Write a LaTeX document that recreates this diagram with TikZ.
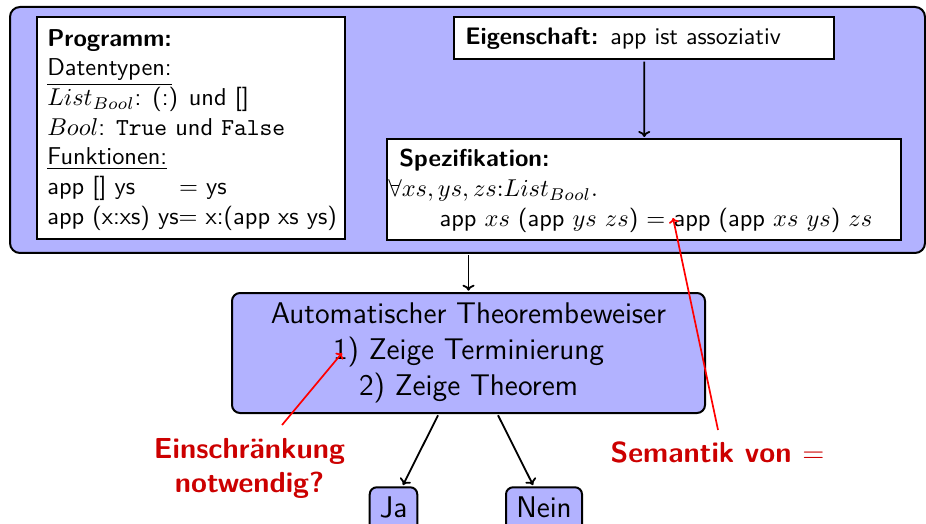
\RequirePackage{fix-cm}
\documentclass[tikz,border=0pt]{standalone}
\usepackage{fontspec}
\renewcommand{\familydefault}{\sfdefault}
\usetikzlibrary{calc,arrows.meta}
\definecolor{boxblue}{rgb}{0.7,0.7,1}
\definecolor{hired}{rgb}{0.8,0,0}
\begin{document}
\begin{tikzpicture}[x=0.434783pt,y=-0.434783pt,scale=2.3,
  every node/.style={transform shape},
  whitebox/.style={draw=black,fill=white,line width=2pt,anchor=north west},
  bluebox/.style={draw=black,fill=boxblue,line width=2pt},
  bigfont/.style={font=\fontsize{13.0}{15.65}\selectfont},
  smallbox/.style={bluebox,rounded corners=7pt,bigfont,text height=9.9pt,text depth=3pt,inner ysep=3.2pt,inner xsep=4.3pt,anchor=north},
  arr/.style={-{Computer Modern Rightarrow[length=6pt,width=12pt]},line width=1.8pt},
  redarr/.style={-{Computer Modern Rightarrow[length=5pt,width=10pt]},line width=1.7pt,draw=red},
  redlabel/.style={text=hired,font=\fontsize{12.6}{14.8}\selectfont\bfseries,inner sep=0pt,align=center}]
\useasboundingbox (0,0) rectangle (926,524);
% outer frame
\node[bluebox,line width=2pt,rounded corners=10pt,minimum width={915/2.3},minimum height={246/2.3},inner sep=0pt] (outer) at (467.5,130) {};
% program box
\node[whitebox,inner xsep={10/2.3},inner ysep={12/2.3}] (prog) at (35,15)
 {\parbox[c][86.09pt][t]{125.2pt}{\fontsize{10.6}{12.9}\selectfont
  \textbf{Programm:}\\
  \underline{Datentypen:}\\
  $List_{Bool}$: (:) und []\\
  $Bool$: \texttt{True} und \texttt{False}\\
  \underline{Funktionen:}\\
  \mbox{app [] ys\hspace{1.8em}$=$\ ys}\\
  \mbox{app (x:xs) ys$=$\ x:(app xs ys)}}};
% property box
\node[whitebox,inner xsep={11/2.3},inner ysep=0pt,minimum height={42/2.3},text width={358/2.3},align=left,font=\fontsize{10.4}{12.9}\selectfont] (eig) at (452,15)
 {\textbf{Eigenschaft:} app ist assoziativ};
% specification box
\node[whitebox,inner xsep={12/2.3},inner ysep={10/2.3}] (spec) at (385,137)
 {\parbox[c][35.2pt][t]{213pt}{\fontsize{10.6}{12.9}\selectfont
  \textbf{Spezifikation:}\\
  \hspace*{-4.8pt}$\forall xs, ys, zs{:}List_{Bool}.$\\
  \hspace*{17.5pt}\mbox{app $xs$ (app $ys$ $zs$) $=$ app (app $xs$ $ys$) $zs$}}};
% prover
\node[bluebox,rounded corners=8pt,minimum width={473/2.3},minimum height={120/2.3},align=center,bigfont] (prover) at (468.5,353)
 {Automatischer Theorembeweiser\\1) Zeige Terminierung\\2) Zeige Theorem};
% results
\node[smallbox,minimum width={47/2.3}] (ja) at (393.5,485) {Ja};
\node[smallbox,minimum width={76/2.3}] (nein) at (544,485) {Nein};
% red labels
\node[redlabel,anchor=north] (ein) at (249.5,438) {Einschränkung\\notwendig?};
\node[redlabel,anchor=base] (sem) at (717.5,462) {Semantik von $=$};
% connectors
\draw[arr] (eig.south) -- (spec.north);
\draw[arr] (outer.south -| prover.north) -- (prover.north);
\draw[arr] ($(prover.south)+(-30.5,0)$) -- ($(ja.north)+(9.5,0)$);
\draw[arr] ($(prover.south)+(29.5,0)$) -- ($(nein.north)+(-11,0)$);
\draw[redarr] ($(ein.north)+(32.5,-13)$) -- ($(prover.center)+(-126.5,0)$);
\draw[redarr] ($(sem.base)+(0.5,-32)$) -- ($(spec.north west)+(288,81)$);
\end{tikzpicture}
\end{document}
